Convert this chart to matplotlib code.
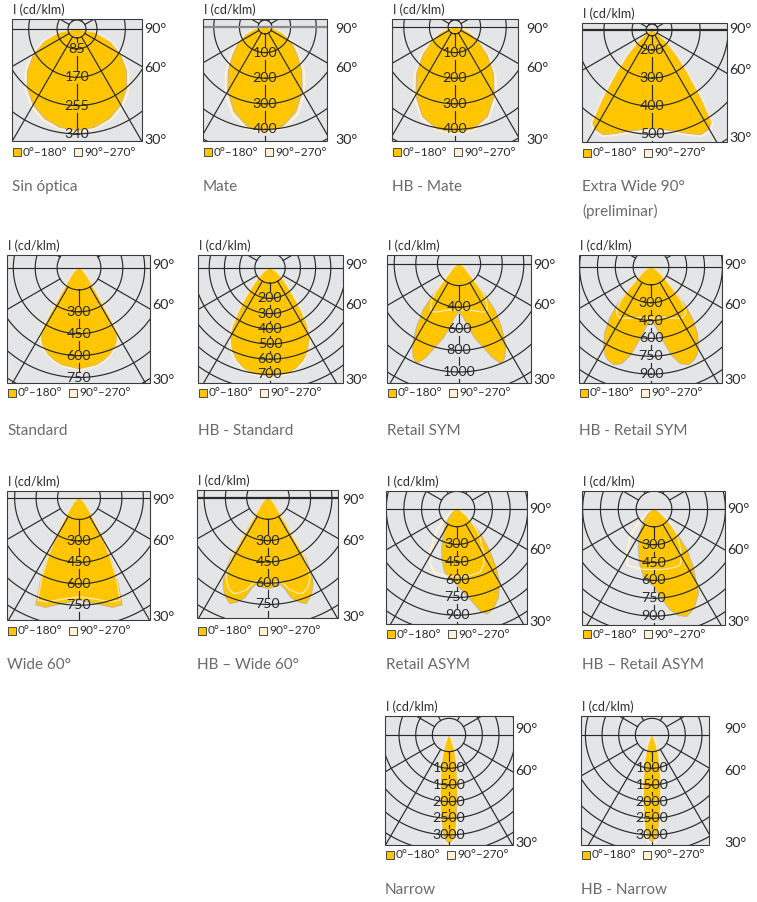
import numpy as np
import matplotlib
matplotlib.use("Agg")
import matplotlib.pyplot as plt
from matplotlib.patches import Rectangle

W, H = 757, 902
plt.rcParams['font.family'] = ['Lato', 'DejaVu Sans']

YELLOW = '#FFC600'
YELLOW_EDGE = '#C8B48A'
CREAM = '#FFF1D4'
BG = '#E4E5E7'
INK = '#2A2A2A'
CAPTION = '#6A6A6A'

# ---------------- photometric data (cd/klm) ----------------
# gamma angles in degrees from nadir; C0 = right half, C180 = left half
SIN_OPTICA_GAMMA = [0, 10, 20, 30, 40, 50, 60, 70, 80, 90]
SIN_OPTICA_C0 = [330, 325, 311, 288, 257, 219, 175, 127, 77, 0]
SIN_OPTICA_C90 = [333, 329, 316, 295, 265, 227, 182, 132, 80, 0]
SIN_OPTICA_RINGS = [85, 170, 255, 340]

MATE_GAMMA = [0, 10, 20, 30, 40, 50, 60, 70, 80, 90]
MATE_C0 = [410, 395, 352, 290, 222, 162, 118, 75, 35, 0]
MATE_C90 = [412, 402, 366, 306, 240, 176, 126, 80, 38, 0]
MATE_RINGS = [100, 200, 300, 400]

HB_MATE_GAMMA = [0, 10, 20, 30, 40, 50, 60, 70, 80, 90]
HB_MATE_C0 = [414, 405, 372, 306, 232, 160, 100, 55, 22, 0]
HB_MATE_C90 = [416, 409, 380, 318, 246, 172, 108, 60, 24, 0]
HB_MATE_RINGS = [100, 200, 300, 400]

EXTRA_WIDE_GAMMA = [0, 10, 20, 25, 30, 33, 36, 40, 45, 50, 60, 70, 80, 90]
EXTRA_WIDE_C0 = [479, 492, 522, 540, 536, 518, 420, 320, 245, 190, 150, 135, 130, 0]
EXTRA_WIDE_C90 = [484, 497, 527, 546, 542, 524, 428, 326, 250, 194, 152, 136, 130, 0]
EXTRA_WIDE_RINGS = [200, 300, 400, 500]

STANDARD_GAMMA = [0, 10, 15, 20, 25, 28, 30, 31, 32, 33, 35, 38, 42, 50, 60, 75, 90]
STANDARD_C0 = [692, 675, 655, 628, 590, 555, 520, 470, 400, 300, 215, 135, 95, 55, 28, 8, 0]
STANDARD_C90 = [698, 681, 661, 634, 596, 561, 526, 476, 405, 305, 218, 137, 96, 56, 28, 8, 0]
STANDARD_RINGS = [300, 450, 600, 750]

HB_STANDARD_GAMMA = [0, 10, 15, 20, 25, 30, 33, 36, 40, 45, 50, 60, 75, 90]
HB_STANDARD_C0 = [715, 700, 680, 645, 595, 520, 450, 350, 240, 150, 100, 45, 12, 0]
HB_STANDARD_C90 = [720, 706, 686, 652, 602, 527, 456, 356, 244, 152, 101, 46, 12, 0]
HB_STANDARD_RINGS = [200, 300, 400, 500, 600, 700]

RETAIL_SYM_GAMMA = [0, 5, 8, 12, 17, 20, 23, 26, 29, 31, 34, 38, 40, 42, 45, 50, 60, 75, 90]
RETAIL_SYM_C0 = [440, 500, 585, 700, 830, 930, 1000, 965, 890, 820, 700, 540, 380, 220, 130, 90, 50, 20, 0]
RETAIL_SYM_C90 = [425, 428, 430, 435, 450, 465, 480, 495, 505, 500, 470, 400, 330, 230, 140, 95, 55, 20, 0]
RETAIL_SYM_RINGS = [400, 600, 800, 1000]

HB_RETAIL_SYM_GAMMA = [0, 5, 10, 13, 17, 21, 25, 28, 31, 35, 39, 42, 45, 48, 55, 65, 80, 90]
HB_RETAIL_SYM_C0 = [443, 510, 650, 760, 850, 880, 860, 830, 770, 680, 550, 420, 270, 180, 100, 50, 15, 0]
HB_RETAIL_SYM_C90 = [430, 430, 432, 436, 445, 460, 475, 490, 500, 495, 460, 380, 260, 175, 95, 45, 12, 0]
HB_RETAIL_SYM_RINGS = [300, 450, 600, 750, 900]

WIDE_60_GAMMA = [0, 10, 17, 22, 25, 28, 30, 32, 35, 40, 50, 65, 90]
WIDE_60_C0 = [713, 753, 800, 806, 640, 470, 360, 260, 170, 100, 50, 15, 0]
WIDE_60_C90 = [690, 720, 760, 770, 620, 455, 350, 252, 165, 97, 48, 14, 0]
WIDE_60_RINGS = [300, 450, 600, 750]

HB_WIDE_60_GAMMA = [0, 5, 8, 10, 13, 17, 20, 24, 28, 30, 32, 33, 35, 38, 45, 55, 70, 90]
HB_WIDE_60_C0 = [640, 625, 615, 640, 720, 770, 790, 750, 677, 600, 500, 330, 230, 130, 75, 40, 15, 0]
HB_WIDE_60_C90 = [600, 595, 590, 610, 660, 700, 715, 690, 630, 560, 470, 310, 210, 120, 70, 38, 14, 0]
HB_WIDE_60_RINGS = [300, 450, 600, 750]

RETAIL_ASYM_GAMMA_C0 = [0, 5, 10, 13, 16, 20, 25, 30, 34, 38, 44, 52, 60, 75, 90]
RETAIL_ASYM_C0 = [644, 717, 810, 892, 925, 900, 830, 720, 590, 450, 285, 110, 50, 15, 0]
RETAIL_ASYM_GAMMA_C180 = [0, 5, 10, 12, 17, 22, 28, 34, 40, 50, 60, 75, 90]
RETAIL_ASYM_C180 = [644, 600, 555, 530, 440, 344, 250, 180, 120, 65, 35, 10, 0]
RETAIL_ASYM_GAMMA_C90 = [0, 10, 20, 26, 31, 38, 42, 48, 55, 70, 90]
RETAIL_ASYM_C90 = [574, 575, 570, 520, 438, 320, 270, 170, 90, 30, 0]
RETAIL_ASYM_RINGS = [300, 450, 600, 750, 900]

HB_RETAIL_ASYM_GAMMA_C0 = [0, 5, 9, 13, 17, 22, 28, 34, 39, 43, 51, 60, 75, 90]
HB_RETAIL_ASYM_C0 = [650, 760, 857, 920, 944, 900, 798, 590, 440, 280, 100, 45, 12, 0]
HB_RETAIL_ASYM_GAMMA_C180 = [0, 5, 9, 15, 23, 29, 35, 42, 50, 60, 75, 90]
HB_RETAIL_ASYM_C180 = [650, 610, 573, 470, 341, 260, 179, 115, 65, 35, 10, 0]
HB_RETAIL_ASYM_GAMMA_C90 = [0, 10, 20, 25, 30, 35, 40, 43, 48, 55, 70, 90]
HB_RETAIL_ASYM_C90 = [510, 515, 520, 520, 460, 380, 310, 270, 180, 90, 30, 0]
HB_RETAIL_ASYM_RINGS = [300, 450, 600, 750, 900]

NARROW_GAMMA = [0, 2, 3, 4, 6, 8, 10, 12, 15, 18, 22, 30, 45, 90]
NARROW_C0 = [3250, 3150, 3000, 2800, 2250, 1750, 1400, 1100, 820, 540, 290, 90, 20, 0]
NARROW_C90 = [3300, 3230, 3100, 2930, 2400, 1880, 1520, 1200, 900, 600, 330, 105, 25, 0]
NARROW_RINGS = [1000, 1500, 2000, 2500, 3000]

HB_NARROW_GAMMA = [0, 2, 3, 4, 6, 8, 10, 12, 15, 18, 22, 30, 45, 90]
HB_NARROW_C0 = [3200, 3100, 2960, 2780, 2270, 1780, 1430, 1130, 840, 560, 300, 95, 22, 0]
HB_NARROW_C90 = [3260, 3190, 3070, 2910, 2420, 1910, 1550, 1230, 920, 620, 345, 110, 26, 0]
HB_NARROW_RINGS = [1000, 1500, 2000, 2500, 3000]

# ---------------- layout (pixels, y downwards) ----------------
PANELS = [
    dict(caption="Sin óptica", box=(12, 19, 142, 141), center=(77, 29), k=0.333, origin=25, hub=52,
         gamma=SIN_OPTICA_GAMMA, c0=SIN_OPTICA_C0, c90=SIN_OPTICA_C90, rings=SIN_OPTICA_RINGS,
         ang_x=144, ang_y=(29, 68, 140), leg_y=152, cap_y=187),
    dict(caption="Mate", box=(203, 19, 327, 141), center=(265, 27), k=0.256, origin=0, hub=27,
         gamma=MATE_GAMMA, c0=MATE_C0, c90=MATE_C90, rings=MATE_RINGS, h90=('#8a8a8a', 1.6),
         ang_x=335, ang_y=(29, 68, 140), leg_y=152, cap_y=187),
    dict(caption="HB - Mate", box=(392, 19, 518, 141), center=(455, 27), k=0.256, origin=0, hub=27,
         gamma=HB_MATE_GAMMA, c0=HB_MATE_C0, c90=HB_MATE_C90, rings=HB_MATE_RINGS,
         ang_x=526, ang_y=(29, 68, 140), leg_y=152, cap_y=187),
    dict(caption="Extra Wide 90°\n(preliminar)", box=(582, 23, 727, 142), center=(652, 30), k=0.281,
         origin=129, hub=150, gamma=EXTRA_WIDE_GAMMA, c0=EXTRA_WIDE_C0, c90=EXTRA_WIDE_C90,
         rings=EXTRA_WIDE_RINGS, h90=(INK, 1.6),
         ang_x=729, ang_y=(29, 70, 138), leg_y=153, cap_y=187),
    dict(caption="Standard", box=(7, 255, 150, 383), center=(79, 268), k=0.146, origin=0, hub=150,
         gamma=STANDARD_GAMMA, c0=STANDARD_C0, c90=STANDARD_C90, rings=STANDARD_RINGS,
         ang_x=152, ang_y=(265, 305, 380), leg_y=393, cap_y=431),
    dict(caption="HB - Standard", box=(198, 255, 343, 383), center=(270, 268), k=0.152, origin=0, hub=100,
         gamma=HB_STANDARD_GAMMA, c0=HB_STANDARD_C0, c90=HB_STANDARD_C90, rings=HB_STANDARD_RINGS,
         ang_x=345, ang_y=(265, 305, 380), leg_y=393, cap_y=431),
    dict(caption="Retail SYM", box=(387, 255, 531, 383), center=(459, 264), k=0.108, origin=0, hub=200,
         gamma=RETAIL_SYM_GAMMA, c0=RETAIL_SYM_C0, c90=RETAIL_SYM_C90, rings=RETAIL_SYM_RINGS,
         ang_x=533, ang_y=(265, 305, 380), leg_y=393, cap_y=431),
    dict(caption="HB - Retail SYM", box=(579, 255, 722, 383), center=(651, 267), k=0.119, origin=0, hub=150,
         gamma=HB_RETAIL_SYM_GAMMA, c0=HB_RETAIL_SYM_C0, c90=HB_RETAIL_SYM_C90, rings=HB_RETAIL_SYM_RINGS,
         ang_x=724, ang_y=(265, 305, 380), leg_y=393, cap_y=431),
    dict(caption="Wide 60°", box=(7, 491, 150, 620), center=(79, 498), k=0.143, origin=0, hub=150,
         gamma=WIDE_60_GAMMA, c0=WIDE_60_C0, c90=WIDE_60_C90, rings=WIDE_60_RINGS,
         ang_x=152, ang_y=(500, 541, 617), leg_y=631, cap_y=665),
    dict(caption="HB – Wide 60°", box=(197, 490, 338, 618), center=(268, 498), k=0.142, origin=0, hub=150,
         gamma=HB_WIDE_60_GAMMA, c0=HB_WIDE_60_C0, c90=HB_WIDE_60_C90, rings=HB_WIDE_60_RINGS,
         h90=(INK, 1.6), ang_x=342, ang_y=(500, 541, 617), leg_y=631, cap_y=665),
    dict(caption="Retail ASYM", box=(386, 491, 527, 624), center=(457, 509), k=0.118, origin=0, hub=150,
         gamma=RETAIL_ASYM_GAMMA_C0, c0=RETAIL_ASYM_C0,
         gamma_left=RETAIL_ASYM_GAMMA_C180, c180=RETAIL_ASYM_C180,
         gamma90=RETAIL_ASYM_GAMMA_C90, c90=RETAIL_ASYM_C90, rings=RETAIL_ASYM_RINGS,
         ang_x=529, ang_y=(509, 550, 622), leg_y=634, cap_y=665),
    dict(caption="HB – Retail ASYM", box=(582, 491, 725, 625), center=(654, 509), k=0.119, origin=0, hub=150,
         gamma=HB_RETAIL_ASYM_GAMMA_C0, c0=HB_RETAIL_ASYM_C0,
         gamma_left=HB_RETAIL_ASYM_GAMMA_C180, c180=HB_RETAIL_ASYM_C180,
         gamma90=HB_RETAIL_ASYM_GAMMA_C90, c90=HB_RETAIL_ASYM_C90, rings=HB_RETAIL_ASYM_RINGS,
         ang_x=727, ang_y=(509, 550, 622), leg_y=634, cap_y=665),
    dict(caption="Narrow", box=(385, 716, 513, 845), center=(449, 735), k=0.0333, origin=0, hub=500,
         gamma=NARROW_GAMMA, c0=NARROW_C0, c90=NARROW_C90, rings=NARROW_RINGS,
         ang_x=515, ang_y=(729, 771, 843), leg_y=855, cap_y=890),
    dict(caption="HB - Narrow", box=(581, 716, 709, 845), center=(652, 735), k=0.0333, origin=0, hub=500,
         gamma=HB_NARROW_GAMMA, c0=HB_NARROW_C0, c90=HB_NARROW_C90, rings=HB_NARROW_RINGS,
         ang_x=724, ang_y=(729, 771, 843), leg_y=855, cap_y=890),
]


def fx(x):
    return x / W


def fy(y):
    return 1 - y / H


def mirrored(gr, vr, gl, vl):
    """Join the C180 half (left, negative angles) and the C0 half (right)."""
    gr = np.radians(np.asarray(gr, float))
    gl = np.radians(np.asarray(gl, float))
    th = np.concatenate([-gl[::-1], gr])
    rr = np.concatenate([np.asarray(vl, float)[::-1], np.asarray(vr, float)])
    return th, rr


def draw_panel(fig, p):
    x0, y0, x1, y1 = p['box']
    cx, cy = p['center']
    k, org = p['k'], p['origin']

    # grey frame that clips the polar drawing
    axb = fig.add_axes([fx(x0), fy(y1), (x1 - x0) / W, (y1 - y0) / H])
    axb.set_facecolor(BG)
    axb.set_xticks([])
    axb.set_yticks([])
    for s in axb.spines.values():
        s.set_visible(False)

    R = max(np.hypot(x - cx, y - cy) for x in (x0, x1) for y in (y0, y1)) + 4
    axp = fig.add_axes([fx(cx - R), fy(cy + R), 2 * R / W, 2 * R / H], projection='polar')
    axp.set_theta_zero_location('S')
    axp.set_theta_direction(1)
    rmax = org + R / k
    axp.set_ylim(org, rmax)
    axp.set_axis_off()
    clip = axb.patch

    def clipped(artists):
        for a in artists:
            a.set_clip_path(clip)
        return artists

    # C90-C270 plane (outline, partly behind the main plane)
    g90 = p.get('gamma90', p['gamma'])
    th9, rr9 = mirrored(g90, p['c90'], g90, p['c90'])
    rr9 = np.clip(rr9, org, None)
    clipped(axp.plot(th9, rr9, color=CREAM, lw=1.6, zorder=1.8))

    # luminous intensity, C0-C180 plane (filled)
    gl = p.get('gamma_left', p['gamma'])
    vl = p.get('c180', p['c0'])
    th, rr = mirrored(p['gamma'], p['c0'], gl, vl)
    rr = np.clip(rr, org, None)
    clipped(axp.fill(th, rr, facecolor=YELLOW, edgecolor=YELLOW_EDGE, lw=0.7, zorder=2))
    clipped(axp.plot(th9, rr9, color=CREAM, lw=0.9, alpha=0.85, zorder=2.5))

    # concentric rings
    rings = p['rings']
    step = rings[1] - rings[0]
    tt = np.linspace(0, 2 * np.pi, 721)
    v = step
    while v < rmax:
        if v > org:
            clipped(axp.plot(tt, np.full_like(tt, v), color=INK, lw=0.85, zorder=3))
        v += step
    hub = p['hub']
    if abs(hub / step - round(hub / step)) > 1e-6:
        clipped(axp.plot(tt, np.full_like(tt, hub), color=INK, lw=0.85, zorder=3))

    # radial lines every 30 degrees
    for a in (30, 60, 120, 150):
        for sgn in (1, -1):
            t = np.radians(sgn * a)
            clipped(axp.plot([t, t], [hub, rmax], color=INK, lw=0.85, zorder=3))
    c90col, c90lw = p.get('h90', (INK, 0.85))
    for sgn in (1, -1):
        t = np.radians(sgn * 90)
        clipped(axp.plot([t, t], [org, rmax], color=c90col, lw=c90lw, zorder=3))

    # nadir line, broken around the scale labels
    gap = 7 / k
    stops = [hub] + [r for r in rings] + [rmax]
    for i in range(len(stops) - 1):
        a = stops[i] + (gap if i > 0 else 0)
        b = stops[i + 1] - (gap if i + 1 < len(stops) - 1 else 0)
        if b > a:
            clipped(axp.plot([0, 0], [a, b], color=INK, lw=0.85, zorder=3))
    for r in rings:
        axp.text(0, r, f"{r}", ha='center', va='center', fontsize=10.3, color=INK,
                 zorder=5, clip_on=False)

    # frame
    fig.add_artist(Rectangle((fx(x0), fy(y1)), (x1 - x0) / W, (y1 - y0) / H,
                             transform=fig.transFigure, fill=False, ec='#3c3c3c', lw=0.8, zorder=10))

    # texts around the diagram
    fig.text(fx(x0 + 1), fy(y0 - 9), "I (cd/klm)", ha='left', va='center', fontsize=9, color=INK)
    for lab, yy in zip(("90°", "60°", "30°"), p['ang_y']):
        fig.text(fx(p['ang_x']), fy(yy), lab, ha='left', va='center', fontsize=10.3, color=INK)

    ly = p['leg_y']
    lx = x0 + 1
    for dx, col, txt in ((0, YELLOW, "0°–180°"), (61, CREAM, "90°–270°")):
        fig.add_artist(Rectangle((fx(lx + dx), fy(ly + 4)), 8 / W, 8 / H, transform=fig.transFigure,
                                 facecolor=col, edgecolor='#4a4a4a', lw=0.7, zorder=10))
        fig.text(fx(lx + dx + 10), fy(ly), txt, ha='left', va='center', fontsize=8.6, color=INK)

    for i, line in enumerate(p['caption'].split("\n")):
        fig.text(fx(x0), fy(p['cap_y'] + 24 * i), line, ha='left', va='center',
                 fontsize=11, color=CAPTION)


fig = plt.figure(figsize=(W / 100, H / 100), dpi=100)
fig.patch.set_facecolor('white')
for panel in PANELS:
    draw_panel(fig, panel)
fig.savefig("out.png", dpi=100, facecolor='white')
